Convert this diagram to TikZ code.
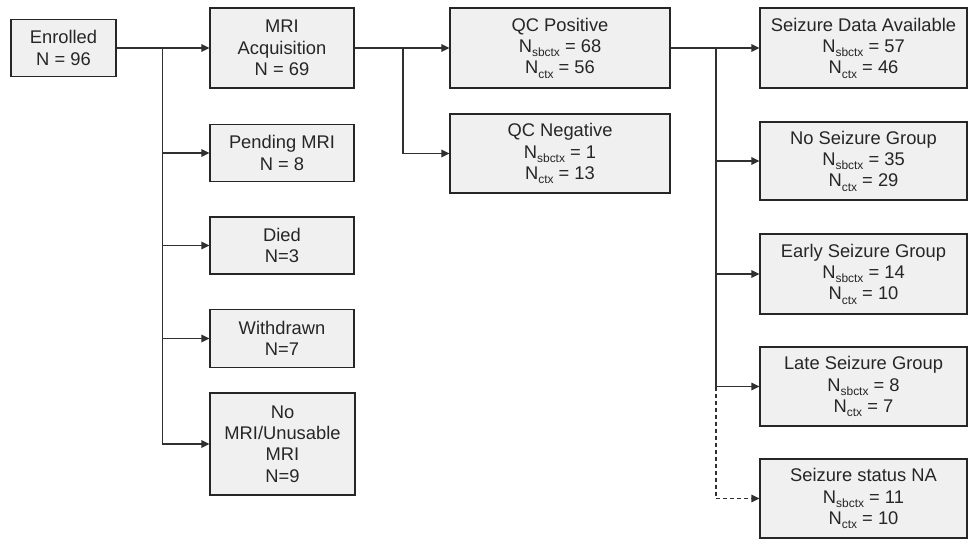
\documentclass[tikz,border=0pt]{standalone}
\usepackage{fontspec}
\setmainfont{Liberation Sans}
\usetikzlibrary{arrows.meta}
\definecolor{boxfill}{HTML}{F0F0F0}
\definecolor{boxline}{HTML}{262626}
\definecolor{txt}{HTML}{262626}
\definecolor{conncol}{HTML}{303030}
\newcommand\sbx[1]{\raisebox{-0.22em}{\fontsize{12}{12}\selectfont #1}}
\begin{document}
\begin{tikzpicture}[x=1bp,y=-1bp,
  box/.style={draw=boxline, fill=boxfill, line width=1.1bp, align=center, inner sep=0pt,
    text=txt, font=\fontsize{18.4}{21.5}\selectfont},
  conn/.style={draw=conncol, line width=1.4bp, -{Triangle[length=8bp,width=7.5bp]}}]
\useasboundingbox (0,0) rectangle (968,539);
% column 1
\node[box, minimum width=105bp, minimum height=57bp] (enr) at (63.5,48) {Enrolled\\N = 96};
% column 2
\node[box, minimum width=144bp, minimum height=80bp] (mri) at (282,48) {MRI\\Acquisition\\N = 69};
\node[box, minimum width=144bp, minimum height=57bp] (pend) at (282,153) {Pending MRI\\N = 8};
\node[box, minimum width=144bp, minimum height=57bp] (died) at (282,245.5) {Died\\N=3};
\node[box, minimum width=144bp, minimum height=58bp] (withd) at (282,338.5) {Withdrawn\\N=7};
\node[box, minimum width=145bp, minimum height=102bp] (nomri) at (282.5,444) {No\\MRI/Unusable\\MRI\\N=9};
% column 3
\node[box, minimum width=220bp, minimum height=80bp] (qcp) at (560,48) {QC Positive\\N\sbx{sbctx} = 68\\N\sbx{ctx} = 56};
\node[box, minimum width=220bp, minimum height=79bp] (qcn) at (560,153.5) {QC Negative\\N\sbx{sbctx} = 1\\N\sbx{ctx} = 13};
% column 4
\node[box, minimum width=207bp, minimum height=80bp] (sda) at (863.5,48) {Seizure Data Available\\N\sbx{sbctx} = 57\\N\sbx{ctx} = 46};
\node[box, minimum width=207bp, minimum height=78bp] (nsg) at (863.5,161) {No Seizure Group\\N\sbx{sbctx} = 35\\N\sbx{ctx} = 29};
\node[box, minimum width=207bp, minimum height=80bp] (esg) at (863.5,274) {Early Seizure Group\\N\sbx{sbctx} = 14\\N\sbx{ctx} = 10};
\node[box, minimum width=207bp, minimum height=79bp] (lsg) at (863.5,386.5) {Late Seizure Group\\N\sbx{sbctx} = 8\\N\sbx{ctx} = 7};
\node[box, minimum width=207bp, minimum height=79bp] (ssna) at (863.5,498.5) {Seizure status NA\\N\sbx{sbctx} = 11\\N\sbx{ctx} = 10};
% bus points
\coordinate (b1) at (162.7,48);
\coordinate (b2) at (403,48);
\coordinate (b3) at (716,48);
\coordinate (b4) at (716,386.5);
% connectors
\draw[conn] (enr.east) -- (mri.west);
\draw[conn] (b1) |- (pend.west);
\draw[conn] (b1) |- (died.west);
\draw[conn] (b1) |- (withd.west);
\draw[conn] (b1) |- (nomri.west);
\draw[conn] (mri.east) -- (qcp.west);
\draw[conn] (b2) |- (qcn.west);
\draw[conn] (qcp.east) -- (sda.west);
\draw[conn] (b3) |- (nsg.west);
\draw[conn] (b3) |- (esg.west);
\draw[conn] (b3) |- (lsg.west);
\draw[conn, dash pattern=on 4bp off 3bp] (b4) |- (ssna.west);
\end{tikzpicture}
\end{document}
